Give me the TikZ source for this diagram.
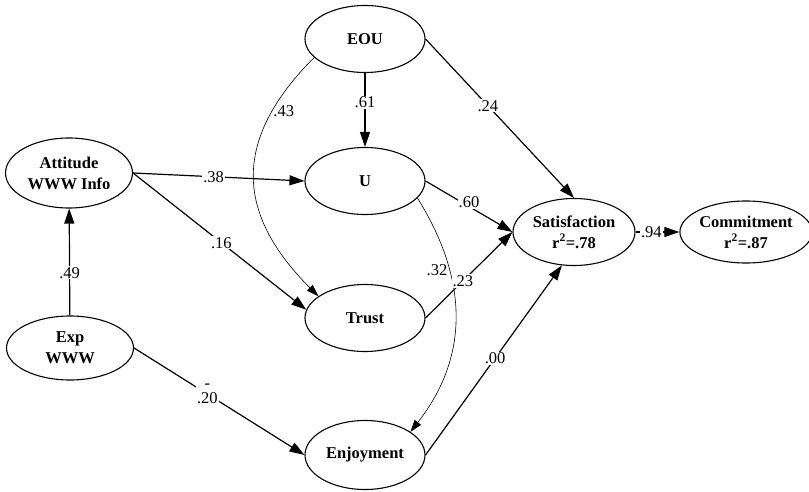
\documentclass[tikz,border=0pt]{standalone}
\usepackage{fontspec}
\setmainfont{Liberation Serif}
\usepackage{tikz}
\usetikzlibrary{shapes.geometric,arrows.meta}

\begin{document}
\begin{tikzpicture}[x=1pt, y=1pt,
        construct/.style={ellipse, draw=black, line width=1.1pt, minimum width=120pt, minimum height=67pt, inner sep=0pt, align=center, font=\fontsize{16.5}{21}\selectfont\bfseries},
        path/.style={line width=1.2pt, -{Triangle[length=15pt, width=10pt]}},
        corr/.style={line width=0.6pt, -{Triangle[length=12pt, width=8pt]}},
        coef/.style={fill=white, inner sep=1pt, font=\fontsize{16.5}{15}\selectfont}]
        \useasboundingbox (0,0) rectangle (809,-492);
        \node[construct, minimum width=127pt, minimum height=70pt] (1) at (69,-173) {Attitude\\WWW Info};
        \node[construct, minimum width=127pt, minimum height=64pt] (2) at (70,-348) {Exp\\WWW};
        \node[construct] (3) at (365,-39) {EOU};
        \node[construct] (4) at (365,-181) {U};
        \node[construct] (5) at (365,-318) {Trust};
        \node[construct, minimum height=69pt] (6) at (365,-455) {Enjoyment};
        \node[construct, minimum width=122pt] (7) at (574,-232) {Satisfaction\\r\textsuperscript{2}=.78};
        \node[construct, minimum width=112pt, minimum height=62pt] (8) at (746,-232) {Commitment\\r\textsuperscript{2}=.87};
        \draw[corr] (3.200) to[out=225, in=135, looseness=1.25] node[pos=0.22, right, inner sep=1pt, font=\fontsize{16.5}{15}\selectfont] {.43} (5.155);
        \draw[corr] (4.-18) to[out=-58, in=52, looseness=1.05] node[pos=0.3, left, inner sep=2pt, font=\fontsize{16.5}{15}\selectfont] {.32} (6.27);
        \draw[path] (2) -- node[coef, pos=0.4] {.49} (1);
        \draw[path] (1.east) -- node[coef, pos=0.47] {.38} (4.west);
        \draw[path] (1.east) -- node[coef, pos=0.51] {.16} (5.172);
        \draw[path] (2.east) -- node[coef, pos=0.43, align=center] {-\\.20} (6.west);
        \draw[path] (3) -- node[coef, pos=0.4] {.61} (4);
        \draw[path] (3.east) -- node[coef, pos=0.42] {.24} (7.north);
        \draw[path] (4.east) -- node[coef, pos=0.5, yshift=4pt] {.60} (7.west);
        \draw[path] (5.east) -- node[coef, pos=0.43] {.23} (7.west);
        \draw[path] (6.east) -- node[coef, pos=0.51] {.00} (7.250);
        \draw[path] (7.east) -- node[coef, pos=0.36] {.94} (8.west);
    \end{tikzpicture}
\end{document}
